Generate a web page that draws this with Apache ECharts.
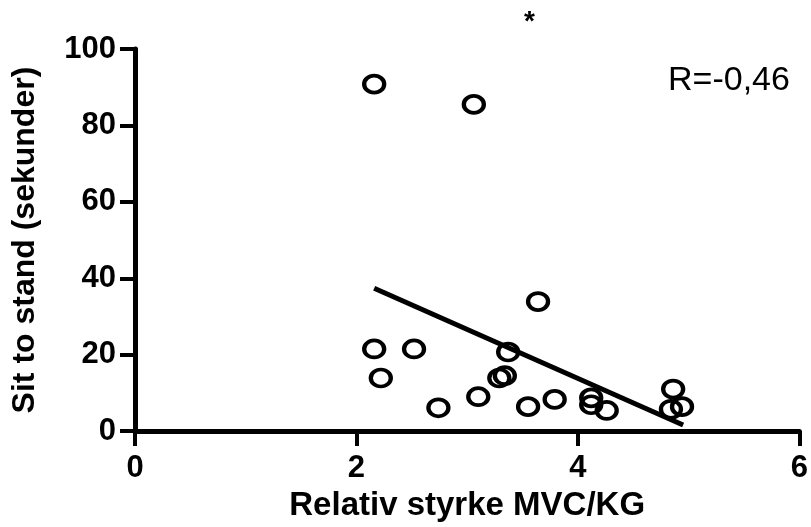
<!DOCTYPE html>
<html>
<head>
<meta charset="utf-8">
<script src="https://cdn.jsdelivr.net/npm/echarts@6/dist/echarts.min.js"></script>
<style>
  html, body { margin: 0; padding: 0; background: #fff; }
  #chart { width: 811px; height: 527px; }
</style>
</head>
<body>
<div id="chart"></div>
<script>
// relative strength (MVC/kg) vs sit-to-stand time
const strength = [2.16, 3.06, 3.64, 2.16, 2.52, 3.37, 2.22, 3.29, 3.34, 3.10,
                  2.74, 3.55, 3.79, 4.12, 4.12, 4.26, 4.86, 4.84, 4.94];
const sitToStand = [90.8, 85.5, 33.9, 21.5, 21.5, 20.7, 13.9, 13.9, 14.5, 9.0,
                    6.1, 6.4, 8.3, 8.7, 6.9, 5.4, 11.0, 5.7, 6.4];
// fitted line end points
const fitX = [2.16, 4.95];
const fitY = [37.4, 1.6];
const xTicks = [0, 2, 4, 6];
const yTicks = [0, 20, 40, 60, 80, 100];
const rLabel = "R=-0,46";

const chart = echarts.init(document.getElementById("chart"));

const axisFont = { fontFamily: "Liberation Sans", fontWeight: "bold", color: "#000" };

chart.setOption({
  animation: false,
  grid: { left: 135, right: 11, top: 49, bottom: 95 },
  xAxis: {
    type: "value",
    min: xTicks[0], max: xTicks[xTicks.length - 1], interval: 2,
    name: "Relativ styrke MVC/KG",
    nameLocation: "middle",
    nameGap: 56,
    nameTextStyle: { ...axisFont, fontSize: 33 },
    axisLine: { lineStyle: { color: "#000", width: 5 } },
    axisTick: { length: 15, lineStyle: { color: "#000", width: 4 } },
    axisLabel: { ...axisFont, fontSize: 31, margin: 22 },
    splitLine: { show: false }
  },
  yAxis: {
    type: "value",
    min: yTicks[0], max: yTicks[yTicks.length - 1], interval: 20,
    name: "Sit to stand (sekunder)",
    nameLocation: "middle",
    nameGap: 94,
    nameTextStyle: { ...axisFont, fontSize: 32 },
    axisLine: { show: true, lineStyle: { color: "#000", width: 5 } },
    axisTick: { show: true, length: 15, lineStyle: { color: "#000", width: 4 } },
    axisLabel: { ...axisFont, fontSize: 31, margin: 19 },
    splitLine: { show: false }
  },
  graphic: [
    { type: "text", left: 668, top: 64,
      style: { text: rLabel, fontFamily: "Liberation Sans", fontSize: 34, fill: "#000" } },
    { type: "text", left: 524, top: 8,
      style: { text: "*", fontFamily: "Liberation Sans", fontWeight: "bold", fontSize: 28, fill: "#000" } }
  ],
  series: [
    {
      type: "line",
      data: fitX.map((x, i) => [x, fitY[i]]),
      symbol: "none",
      lineStyle: { color: "#000", width: 5 },
      z: 2
    },
    {
      type: "scatter",
      data: strength.map((x, i) => [x, sitToStand[i]]),
      symbol: "circle",
      symbolSize: [20, 17],
      itemStyle: { color: "rgba(255,255,255,0)", borderColor: "#000", borderWidth: 4, opacity: 1 },
      z: 3
    }
  ]
});
</script>
</body>
</html>
